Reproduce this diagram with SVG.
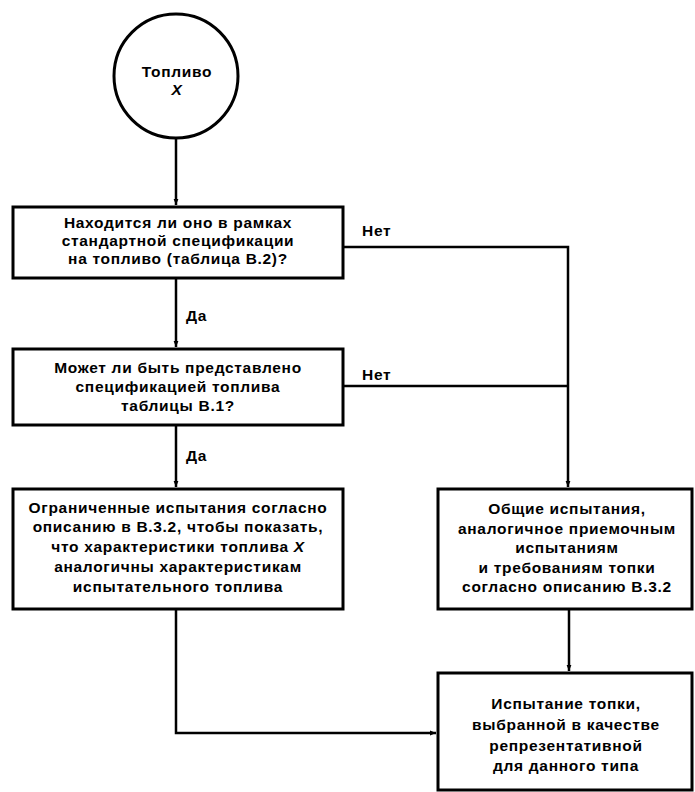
<svg xmlns="http://www.w3.org/2000/svg" width="695" height="792" viewBox="0 0 695 792">
<defs>
<marker id="arr" viewBox="0 0 10 10" refX="10" refY="5" markerWidth="6" markerHeight="6" markerUnits="userSpaceOnUse" orient="auto">
<path d="M0,1 L10,5 L0,9 z" fill="#000"/>
</marker>
<style>
.box{fill:#fff;stroke:#000;stroke-width:3}
.t{font-family:"Liberation Sans",Arial,sans-serif;font-weight:bold;font-size:15.5px;letter-spacing:0.7px;fill:#000;text-anchor:middle}
.lbl{font-family:"Liberation Sans",Arial,sans-serif;font-weight:bold;font-size:15.5px;letter-spacing:0.7px;fill:#000}
.c{fill:none;stroke:#000;stroke-width:2.5}
</style>
</defs>
<rect width="695" height="792" fill="#fff"/>
<g id="connectors">
<line class="c" x1="176" y1="138" x2="176" y2="205" marker-end="url(#arr)"/>
<line class="c" x1="176" y1="278" x2="176" y2="347" marker-end="url(#arr)"/>
<line class="c" x1="176" y1="425" x2="176" y2="487" marker-end="url(#arr)"/>
<polyline class="c" points="343,247 568,247 568,487" marker-end="url(#arr)"/>
<line class="c" x1="343" y1="386" x2="568" y2="386"/>
<line class="c" x1="569" y1="609" x2="569" y2="671" marker-end="url(#arr)"/>
<polyline class="c" points="176,609 176,733 436,733" marker-end="url(#arr)"/>
<text class="lbl" x="186" y="321">Да</text>
<text class="lbl" x="186" y="461">Да</text>
<text class="lbl" x="362" y="236">Нет</text>
<text class="lbl" x="362" y="380">Нет</text>
</g>
<g id="start">
<circle cx="176" cy="76" r="62" fill="#fff" stroke="#000" stroke-width="3"/>
<text class="t" x="177" y="77">Топливо</text>
<text class="t" x="177" y="95" font-style="italic">X</text>
</g>
<g id="q1">
<rect class="box" x="13" y="207" width="330" height="71"/>
<text class="t" x="178" y="228">Находится ли оно в рамках</text>
<text class="t" x="178" y="246">стандартной спецификации</text>
<text class="t" x="178" y="264">на топливо (таблица В.2)?</text>
</g>
<g id="q2">
<rect class="box" x="13" y="349" width="330" height="76"/>
<text class="t" x="178" y="373">Может ли быть представлено</text>
<text class="t" x="178" y="392">спецификацией топлива</text>
<text class="t" x="178" y="411">таблицы В.1?</text>
</g>
<g id="limited">
<rect class="box" x="13" y="489" width="330" height="120"/>
<text class="t" x="178" y="513">Ограниченные испытания согласно</text>
<text class="t" x="178" y="532">описанию в В.3.2, чтобы показать,</text>
<text class="t" x="178" y="552">что характеристики топлива <tspan font-style="italic">X</tspan></text>
<text class="t" x="178" y="572">аналогичны характеристикам</text>
<text class="t" x="178" y="592">испытательного топлива</text>
</g>
<g id="general">
<rect class="box" x="438" y="489" width="254" height="120"/>
<text class="t" x="567" y="514">Общие испытания,</text>
<text class="t" x="567" y="534">аналогичное приемочным</text>
<text class="t" x="567" y="553">испытаниям</text>
<text class="t" x="567" y="573">и требованиям топки</text>
<text class="t" x="567" y="592">согласно описанию В.3.2</text>
</g>
<g id="representative">
<rect class="box" x="438" y="673" width="254" height="117"/>
<text class="t" x="566" y="709">Испытание топки,</text>
<text class="t" x="566" y="730">выбранной в качестве</text>
<text class="t" x="566" y="751">репрезентативной</text>
<text class="t" x="566" y="771">для данного типа</text>
</g>
</svg>
